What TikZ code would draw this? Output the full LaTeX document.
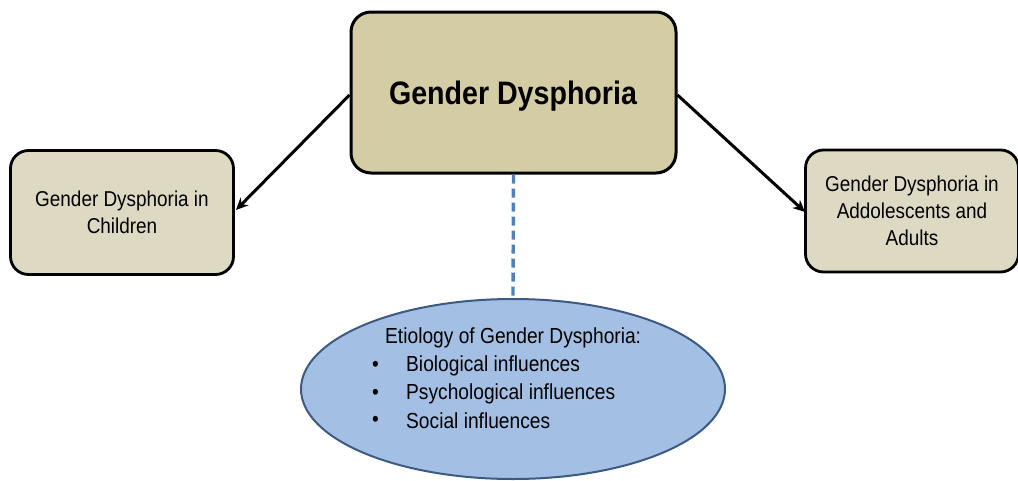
\documentclass[tikz,border=0pt]{standalone}
\usepackage{fontspec}
\setmainfont{Liberation Sans}[FakeStretch=0.88]
\usetikzlibrary{arrows.meta,shapes.geometric}
\definecolor{mainfill}{RGB}{211,204,164}
\definecolor{sidefill}{RGB}{221,217,195}
\definecolor{ovalfill}{RGB}{163,192,228}
\definecolor{ovaledge}{RGB}{60,90,130}
\definecolor{dashblue}{RGB}{79,129,189}
\tikzset{
  bigbox/.style={draw=black, line width=3pt, rounded corners=20pt, fill=mainfill,
    minimum width=325pt, minimum height=161pt, align=center, inner sep=0pt,
    font=\fontsize{32.5}{36}\selectfont\bfseries},
  sidebox/.style={draw=black, line width=2.8pt, rounded corners=18pt, fill=sidefill,
    align=center, inner sep=0pt, font=\fontsize{21.5}{27}\selectfont},
  link/.style={draw=black, line width=3pt, -{Stealth[length=12pt,width=11pt]}},
  oval/.style={ellipse, draw=ovaledge, line width=2pt, fill=ovalfill,
    minimum width=424pt, minimum height=180pt, inner sep=0pt},
  ovaltext/.style={font=\fontsize{21.8}{28}\selectfont, anchor=west, inner sep=0pt}
}
\begin{document}
\begin{tikzpicture}[x=1pt,y=-1pt]
  \useasboundingbox (0,0) rectangle (1018,480);

  % central concept
  \node[bigbox] (main) at (513.5,92.5) {};
  \node[font=\fontsize{32.5}{36}\selectfont\bfseries] (title) at (513,96) {Gender Dysphoria};

  % two branches
  \node[sidebox, minimum width=223pt, minimum height=124pt] (kids) at (122,212.5)
    {Gender Dysphoria in\\Children};
  \node[sidebox, minimum width=213pt, minimum height=122pt] (adults) at (912,211)
    {Gender Dysphoria in\\Addolescents and\\Adults};

  \draw[link] (main.west |- 0,95) -- (236,210);
  \draw[link] (main.east |- 0,95) -- (805,212);

  % etiology oval
  \node[oval] (cause) at (513,389) {};
  \draw[dashblue, line width=3.4pt, dash pattern=on 9pt off 5pt] (main.south) -- (cause.north);

  \node[ovaltext] (t0) at (385,338) {Etiology of Gender Dysphoria:};
  \node[ovaltext] (b1) at (372,366) {\textbullet};
  \node[ovaltext] (b2) at (372,394) {\textbullet};
  \node[ovaltext] (b3) at (372,421) {\textbullet};
  \node[ovaltext] (t1) at (406,366) {Biological influences};
  \node[ovaltext] (t2) at (406,394) {Psychological influences};
  \node[ovaltext] (t3) at (406,421) {Social influences};
\end{tikzpicture}
\end{document}
